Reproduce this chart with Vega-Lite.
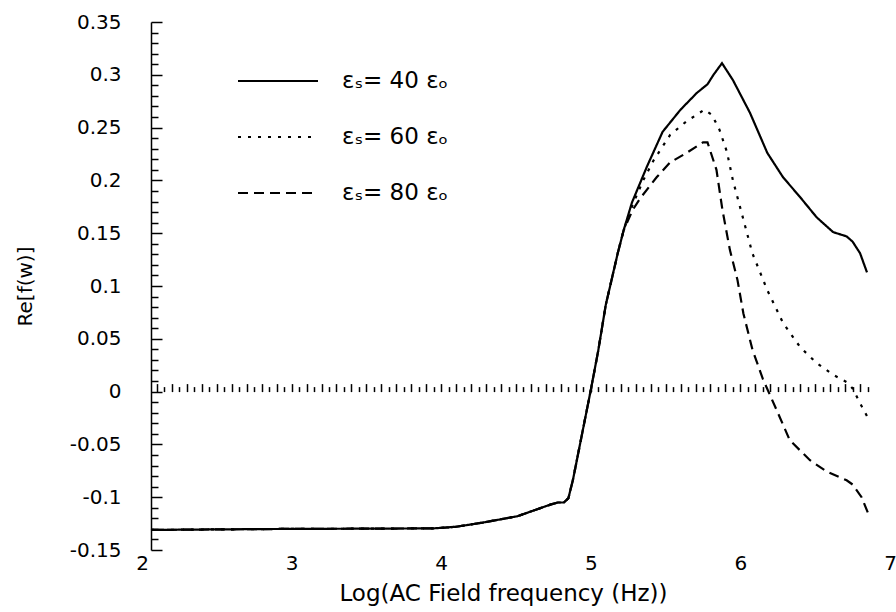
{
  "$schema": "https://vega.github.io/schema/vega-lite/v6.json",
  "width": 748,
  "height": 528,
  "autosize": {"type": "none"},
  "padding": {"left": 142, "top": 22, "right": 6, "bottom": 62},
  "background": "white",
  "config": {"view": {"stroke": null}},
  "datasets": {
    "curves": [
      {"s": "εₛ= 40 εₒ", "x": 2.06, "y": -0.131}, {"s": "εₛ= 40 εₒ", "x": 2.5, "y": -0.1305}, {"s": "εₛ= 40 εₒ", "x": 3.0, "y": -0.130}, {"s": "εₛ= 40 εₒ", "x": 3.5, "y": -0.1298}, {"s": "εₛ= 40 εₒ", "x": 3.95, "y": -0.1295}, {"s": "εₛ= 40 εₒ", "x": 4.1, "y": -0.128}, {"s": "εₛ= 40 εₒ", "x": 4.28, "y": -0.124}, {"s": "εₛ= 40 εₒ", "x": 4.51, "y": -0.118}, {"s": "εₛ= 40 εₒ", "x": 4.73, "y": -0.107}, {"s": "εₛ= 40 εₒ", "x": 4.78, "y": -0.105}, {"s": "εₛ= 40 εₒ", "x": 4.82, "y": -0.105}, {"s": "εₛ= 40 εₒ", "x": 4.85, "y": -0.101}, {"s": "εₛ= 40 εₒ", "x": 4.88, "y": -0.084}, {"s": "εₛ= 40 εₒ", "x": 5.0, "y": 0.0015}, {"s": "εₛ= 40 εₒ", "x": 5.05, "y": 0.039}, {"s": "εₛ= 40 εₒ", "x": 5.1, "y": 0.082}, {"s": "εₛ= 40 εₒ", "x": 5.18, "y": 0.131}, {"s": "εₛ= 40 εₒ", "x": 5.22, "y": 0.153},
      {"s": "εₛ= 40 εₒ", "x": 5.275, "y": 0.179}, {"s": "εₛ= 40 εₒ", "x": 5.375, "y": 0.213}, {"s": "εₛ= 40 εₒ", "x": 5.48, "y": 0.246}, {"s": "εₛ= 40 εₒ", "x": 5.6, "y": 0.267}, {"s": "εₛ= 40 εₒ", "x": 5.71, "y": 0.283}, {"s": "εₛ= 40 εₒ", "x": 5.78, "y": 0.291}, {"s": "εₛ= 40 εₒ", "x": 5.82, "y": 0.3}, {"s": "εₛ= 40 εₒ", "x": 5.877, "y": 0.311}, {"s": "εₛ= 40 εₒ", "x": 5.95, "y": 0.295}, {"s": "εₛ= 40 εₒ", "x": 6.064, "y": 0.264}, {"s": "εₛ= 40 εₒ", "x": 6.18, "y": 0.226}, {"s": "εₛ= 40 εₒ", "x": 6.285, "y": 0.203}, {"s": "εₛ= 40 εₒ", "x": 6.4, "y": 0.184}, {"s": "εₛ= 40 εₒ", "x": 6.51, "y": 0.165}, {"s": "εₛ= 40 εₒ", "x": 6.62, "y": 0.151}, {"s": "εₛ= 40 εₒ", "x": 6.71, "y": 0.147}, {"s": "εₛ= 40 εₒ", "x": 6.75, "y": 0.142}, {"s": "εₛ= 40 εₒ", "x": 6.8, "y": 0.131}, {"s": "εₛ= 40 εₒ", "x": 6.846, "y": 0.113},

      {"s": "εₛ= 60 εₒ", "x": 2.06, "y": -0.131}, {"s": "εₛ= 60 εₒ", "x": 2.5, "y": -0.1305}, {"s": "εₛ= 60 εₒ", "x": 3.0, "y": -0.130}, {"s": "εₛ= 60 εₒ", "x": 3.5, "y": -0.1298}, {"s": "εₛ= 60 εₒ", "x": 3.95, "y": -0.1295}, {"s": "εₛ= 60 εₒ", "x": 4.1, "y": -0.128}, {"s": "εₛ= 60 εₒ", "x": 4.28, "y": -0.124}, {"s": "εₛ= 60 εₒ", "x": 4.51, "y": -0.118}, {"s": "εₛ= 60 εₒ", "x": 4.73, "y": -0.107}, {"s": "εₛ= 60 εₒ", "x": 4.78, "y": -0.105}, {"s": "εₛ= 60 εₒ", "x": 4.82, "y": -0.105}, {"s": "εₛ= 60 εₒ", "x": 4.85, "y": -0.101}, {"s": "εₛ= 60 εₒ", "x": 4.88, "y": -0.084}, {"s": "εₛ= 60 εₒ", "x": 5.0, "y": 0.0015}, {"s": "εₛ= 60 εₒ", "x": 5.05, "y": 0.039}, {"s": "εₛ= 60 εₒ", "x": 5.1, "y": 0.082}, {"s": "εₛ= 60 εₒ", "x": 5.18, "y": 0.131}, {"s": "εₛ= 60 εₒ", "x": 5.22, "y": 0.153},
      {"s": "εₛ= 60 εₒ", "x": 5.28, "y": 0.177}, {"s": "εₛ= 60 εₒ", "x": 5.35, "y": 0.2}, {"s": "εₛ= 60 εₒ", "x": 5.42, "y": 0.219}, {"s": "εₛ= 60 εₒ", "x": 5.53, "y": 0.243}, {"s": "εₛ= 60 εₒ", "x": 5.64, "y": 0.256}, {"s": "εₛ= 60 εₒ", "x": 5.76, "y": 0.267}, {"s": "εₛ= 60 εₒ", "x": 5.81, "y": 0.262}, {"s": "εₛ= 60 εₒ", "x": 5.86, "y": 0.248}, {"s": "εₛ= 60 εₒ", "x": 5.91, "y": 0.227}, {"s": "εₛ= 60 εₒ", "x": 5.95, "y": 0.2}, {"s": "εₛ= 60 εₒ", "x": 6.02, "y": 0.163}, {"s": "εₛ= 60 εₒ", "x": 6.08, "y": 0.131}, {"s": "εₛ= 60 εₒ", "x": 6.18, "y": 0.096}, {"s": "εₛ= 60 εₒ", "x": 6.285, "y": 0.065}, {"s": "εₛ= 60 εₒ", "x": 6.4, "y": 0.042}, {"s": "εₛ= 60 εₒ", "x": 6.51, "y": 0.027}, {"s": "εₛ= 60 εₒ", "x": 6.62, "y": 0.016}, {"s": "εₛ= 60 εₒ", "x": 6.71, "y": 0.009}, {"s": "εₛ= 60 εₒ", "x": 6.75, "y": 0.003}, {"s": "εₛ= 60 εₒ", "x": 6.8, "y": -0.011}, {"s": "εₛ= 60 εₒ", "x": 6.853, "y": -0.025},

      {"s": "εₛ= 80 εₒ", "x": 2.06, "y": -0.131}, {"s": "εₛ= 80 εₒ", "x": 2.5, "y": -0.1305}, {"s": "εₛ= 80 εₒ", "x": 3.0, "y": -0.130}, {"s": "εₛ= 80 εₒ", "x": 3.5, "y": -0.1298}, {"s": "εₛ= 80 εₒ", "x": 3.95, "y": -0.1295}, {"s": "εₛ= 80 εₒ", "x": 4.1, "y": -0.128}, {"s": "εₛ= 80 εₒ", "x": 4.28, "y": -0.124}, {"s": "εₛ= 80 εₒ", "x": 4.51, "y": -0.118}, {"s": "εₛ= 80 εₒ", "x": 4.73, "y": -0.107}, {"s": "εₛ= 80 εₒ", "x": 4.78, "y": -0.105}, {"s": "εₛ= 80 εₒ", "x": 4.82, "y": -0.105}, {"s": "εₛ= 80 εₒ", "x": 4.85, "y": -0.101}, {"s": "εₛ= 80 εₒ", "x": 4.88, "y": -0.084}, {"s": "εₛ= 80 εₒ", "x": 5.0, "y": 0.0015}, {"s": "εₛ= 80 εₒ", "x": 5.05, "y": 0.039}, {"s": "εₛ= 80 εₒ", "x": 5.1, "y": 0.082}, {"s": "εₛ= 80 εₒ", "x": 5.18, "y": 0.131}, {"s": "εₛ= 80 εₒ", "x": 5.22, "y": 0.153},
      {"s": "εₛ= 80 εₒ", "x": 5.28, "y": 0.172}, {"s": "εₛ= 80 εₒ", "x": 5.33, "y": 0.183}, {"s": "εₛ= 80 εₒ", "x": 5.44, "y": 0.203}, {"s": "εₛ= 80 εₒ", "x": 5.53, "y": 0.217}, {"s": "εₛ= 80 εₒ", "x": 5.64, "y": 0.226}, {"s": "εₛ= 80 εₒ", "x": 5.75, "y": 0.236}, {"s": "εₛ= 80 εₒ", "x": 5.78, "y": 0.236}, {"s": "εₛ= 80 εₒ", "x": 5.84, "y": 0.21}, {"s": "εₛ= 80 εₒ", "x": 5.88, "y": 0.172}, {"s": "εₛ= 80 εₒ", "x": 5.93, "y": 0.134}, {"s": "εₛ= 80 εₒ", "x": 5.98, "y": 0.106}, {"s": "εₛ= 80 εₒ", "x": 6.02, "y": 0.074}, {"s": "εₛ= 80 εₒ", "x": 6.08, "y": 0.04}, {"s": "εₛ= 80 εₒ", "x": 6.15, "y": 0.012}, {"s": "εₛ= 80 εₒ", "x": 6.2, "y": -0.004}, {"s": "εₛ= 80 εₒ", "x": 6.25, "y": -0.02}, {"s": "εₛ= 80 εₒ", "x": 6.33, "y": -0.046}, {"s": "εₛ= 80 εₒ", "x": 6.465, "y": -0.065}, {"s": "εₛ= 80 εₒ", "x": 6.58, "y": -0.076}, {"s": "εₛ= 80 εₒ", "x": 6.71, "y": -0.084}, {"s": "εₛ= 80 εₒ", "x": 6.75, "y": -0.088}, {"s": "εₛ= 80 εₒ", "x": 6.81, "y": -0.1}, {"s": "εₛ= 80 εₒ", "x": 6.853, "y": -0.115}
    ]
  },
  "layer": [
    {
      "data": {"name": "curves"},
      "mark": {"type": "line", "color": "black", "strokeWidth": 2.2},
      "encoding": {
        "x": {
          "field": "x", "type": "quantitative",
          "scale": {"domain": [2, 7], "nice": false, "zero": false},
          "axis": {
            "orient": "bottom", "values": [2, 3, 4, 5, 6, 7], "ticks": false, "domain": false, "grid": false,
            "labelFlush": false, "labelPadding": 3, "labelFont": "DejaVu Sans", "labelFontSize": 20, "labelColor": "black",
            "title": "Log(AC Field frequency (Hz))", "titleX": 361, "titleFont": "DejaVu Sans", "titleFontSize": 23, "titleFontWeight": "normal", "titleColor": "black", "titlePadding": 9
          }
        },
        "y": {
          "field": "y", "type": "quantitative",
          "scale": {"domain": [-0.15, 0.35], "nice": false, "zero": false},
          "axis": {
            "orient": "left", "offset": -9, "grid": false,
            "values": [-0.15, -0.1, -0.05, 0, 0.05, 0.1, 0.15, 0.2, 0.25, 0.3, 0.35],
            "labelExpr": "toString(round(datum.value*100)/100)",
            "tickSize": -11, "tickWidth": 1.5, "tickColor": "black", "domainColor": "black", "domainWidth": 1.5,
            "labelPadding": 41, "labelFont": "DejaVu Sans", "labelFontSize": 20, "labelColor": "black", "labelOverlap": false,
            "title": "Re[f(w)]", "titleFont": "DejaVu Sans", "titleFontSize": 20, "titleFontWeight": "normal", "titleColor": "black", "titlePadding": 34
          }
        },
        "strokeDash": {
          "field": "s", "type": "nominal",
          "scale": {"domain": ["εₛ= 40 εₒ", "εₛ= 60 εₒ", "εₛ= 80 εₒ"], "range": [[1, 0], [3, 7], [10, 6]]},
          "legend": {
            "orient": "none", "legendX": 95, "legendY": 18, "title": null, "padding": 0,
            "symbolType": "stroke", "symbolSize": 6400, "symbolStrokeWidth": 2, "symbolStrokeColor": "black",
            "labelFont": "DejaVu Sans", "labelFontSize": 23, "labelColor": "black", "labelOffset": 23, "rowPadding": 3, "labelLimit": 300
          }
        }
      }
    },
    {
      "mark": {"type": "rule", "color": "black", "strokeWidth": 1.5},
      "encoding": {
        "x": {
          "datum": 2.06, "type": "quantitative",
          "axis": {
            "orient": "bottom", "offset": -158.4, "domain": false, "labels": false, "title": null, "grid": false,
            "values": [2.1,2.2,2.3,2.4,2.5,2.6,2.7,2.8,2.9,3,3.1,3.2,3.3,3.4,3.5,3.6,3.7,3.8,3.9,4,4.1,4.2,4.3,4.4,4.5,4.6,4.7,4.8,4.9,5,5.1,5.2,5.3,5.4,5.5,5.6,5.7,5.8,5.9,6,6.1,6.2,6.3,6.4,6.5,6.6,6.7,6.8],
            "tickSize": -8, "tickWidth": 1.5, "tickColor": "black"
          }
        },
        "x2": {"datum": 6.85},
        "y": {
          "datum": 0, "type": "quantitative",
          "axis": {
            "orient": "left", "offset": -9, "domain": false, "labels": false, "title": null, "grid": false,
            "values": [-0.14,-0.13,-0.12,-0.11,-0.09,-0.08,-0.07,-0.06,-0.04,-0.03,-0.02,-0.01,0.01,0.02,0.03,0.04,0.06,0.07,0.08,0.09,0.11,0.12,0.13,0.14,0.16,0.17,0.18,0.19,0.21,0.22,0.23,0.24,0.26,0.27,0.28,0.29,0.31,0.32,0.33,0.34],
            "tickSize": -7, "tickWidth": 1.5, "tickColor": "black"
          }
        }
      }
    },
    {
      "mark": {"type": "rule", "color": "black", "strokeWidth": 1.5},
      "encoding": {
        "x": {
          "datum": 2.06, "type": "quantitative",
          "axis": {
            "orient": "bottom", "offset": -158.4, "domain": false, "labels": false, "title": null, "grid": false,
            "values": [2.15,2.25,2.35,2.45,2.55,2.65,2.75,2.85,2.95,3.05,3.15,3.25,3.35,3.45,3.55,3.65,3.75,3.85,3.95,4.05,4.15,4.25,4.35,4.45,4.55,4.65,4.75,4.85,4.95,5.05,5.15,5.25,5.35,5.45,5.55,5.65,5.75,5.85,5.95,6.05,6.15,6.25,6.35,6.45,6.55,6.65,6.75,6.85],
            "tickSize": -5, "tickWidth": 1.5, "tickColor": "black"
          }
        },
        "x2": {"datum": 6.85},
        "y": {"datum": 0, "type": "quantitative", "axis": null}
      }
    }
  ],
  "resolve": {"axis": {"x": "independent", "y": "independent"}}
}
